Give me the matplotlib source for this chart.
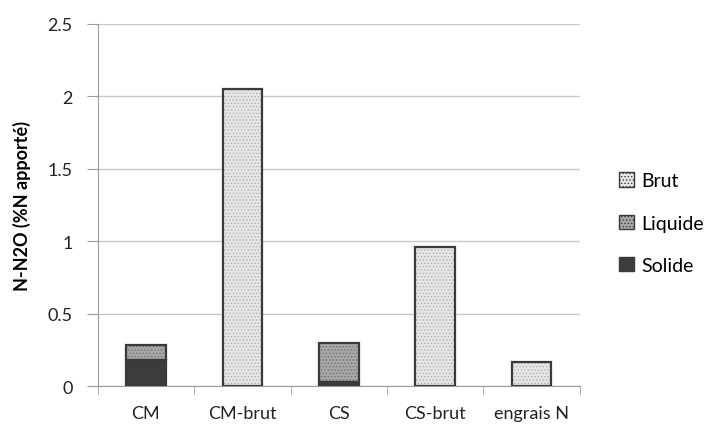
import numpy as np
import matplotlib.pyplot as plt
from matplotlib.patches import Patch
from matplotlib.ticker import FormatStrFormatter, FixedLocator

categories = ['CM', 'CM-brut', 'CS', 'CS-brut', 'engrais N']
solide = [0.18, 0, 0.025, 0, 0]
liquide = [0.10, 0, 0.275, 0, 0]
brut = [0, 2.05, 0, 0.96, 0.165]
yticks = [0, 0.5, 1, 1.5, 2, 2.5]

plt.rcParams['font.family'] = ['Lato', 'DejaVu Sans']
plt.rcParams['hatch.linewidth'] = 0.6

fig = plt.figure(figsize=(7.08, 4.31), dpi=100)
ax = fig.add_axes([0.138, 0.102, 0.681, 0.840])

x = np.arange(len(categories))
w = 0.41
edge = '#3a3a3a'

# (valeurs, fond, couleur des points, motif)
series = [
    ('Solide', solide, '#3c3c3c', '#2a2a2a', None),
    ('Liquide', liquide, '#a8a8a8', '#707070', '.....'),
    ('Brut', brut, '#e6e6e6', '#b0b0b0', '.....'),
]

bottom = np.zeros(len(categories))
handles = []
for name, vals, fc, hc, hatch in series:
    vals = np.array(vals, dtype=float)
    m = vals > 0
    ax.bar(x[m], vals[m], w, bottom=bottom[m], color=fc, edgecolor=hc,
           hatch=hatch, linewidth=0, zorder=3)
    ax.bar(x[m], vals[m], w, bottom=bottom[m], fill=False, edgecolor=edge,
           linewidth=1.6, zorder=4)
    bottom += vals
    handles.append(Patch(facecolor=fc, edgecolor=edge, hatch=hatch, linewidth=1.0, label=name))

ax.set_xlim(-0.5, len(categories) - 0.5)
ax.set_ylim(0, 2.5)
ax.set_yticks(yticks)
ax.yaxis.set_major_formatter(FormatStrFormatter('%g'))
ax.set_xticks(x)
ax.set_xticklabels(categories)
ax.xaxis.set_minor_locator(FixedLocator(np.arange(len(categories) + 1) - 0.5))
ax.tick_params(axis='x', which='major', length=0, labelsize=13, pad=14, colors='#222222')
ax.tick_params(axis='x', which='minor', length=6, color='#9a9a9a', direction='out')
ax.tick_params(axis='y', length=8, color='#9a9a9a', labelsize=13, pad=10, colors='#222222')
ax.tick_params(axis='y', color='#9a9a9a')

ax.grid(axis='y', color='#c8c8c8', linewidth=1, zorder=0)
for s in ['top', 'right']:
    ax.spines[s].set_visible(False)
for s in ['left', 'bottom']:
    ax.spines[s].set_color('#9a9a9a')

ax.set_ylabel('N-N2O (%N apporté)', fontsize=13, fontweight='bold', labelpad=12)

fig.legend(handles=handles[::-1], loc='center left', bbox_to_anchor=(0.85, 0.48),
           frameon=False, fontsize=14, labelspacing=1.3, handlelength=0.75,
           handleheight=0.75, handletextpad=0.4)

fig.savefig('out.png', dpi=100)
